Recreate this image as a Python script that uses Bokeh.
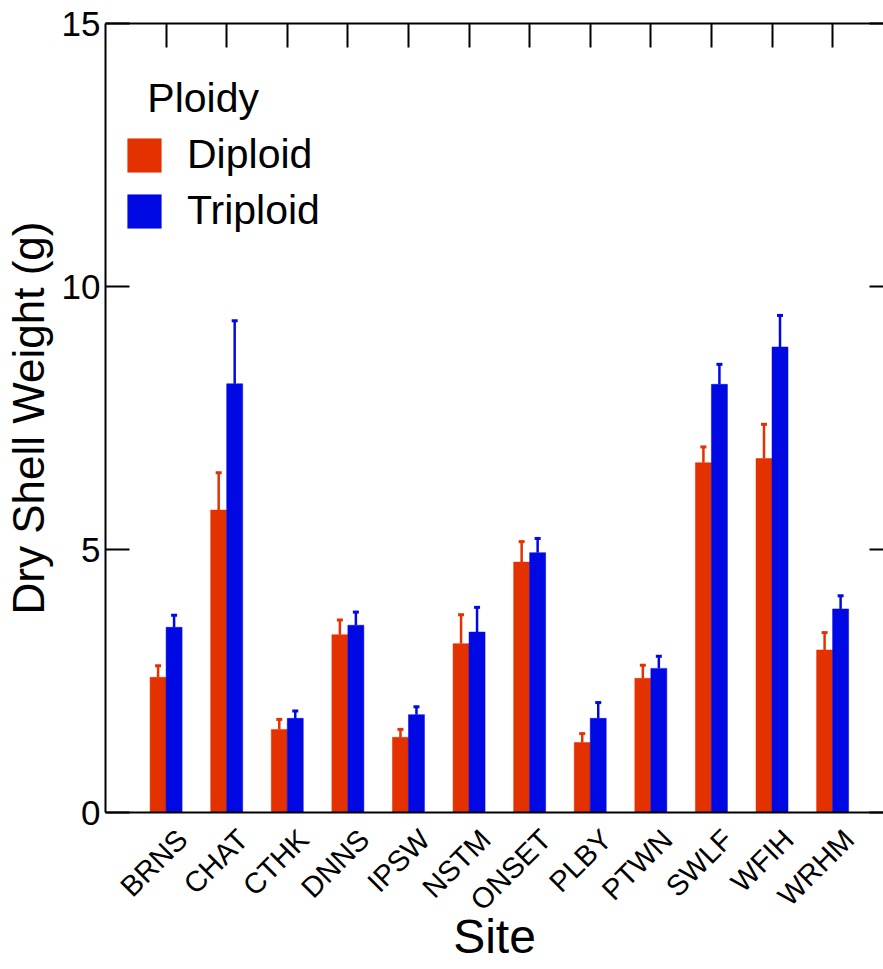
import math
from bokeh.plotting import figure
from bokeh.models import (ColumnDataSource, Range1d, LinearAxis, FixedTicker,
                          Legend, LegendItem, Label)
from bokeh.embed import file_html
from bokeh.resources import INLINE

# ---- data ----
sites = ["BRNS", "CHAT", "CTHK", "DNNS", "IPSW", "NSTM",
         "ONSET", "PLBY", "PTWN", "SWLF", "WFIH", "WRHM"]
diploid_mean = [2.57, 5.75, 1.58, 3.38, 1.43, 3.21, 4.76, 1.33, 2.55, 6.65, 6.73, 3.09]
diploid_err = [0.22, 0.71, 0.19, 0.28, 0.15, 0.55, 0.39, 0.17, 0.25, 0.30, 0.65, 0.33]
triploid_mean = [3.52, 8.15, 1.79, 3.56, 1.86, 3.43, 4.94, 1.79, 2.74, 8.14, 8.85, 3.87]
triploid_err = [0.23, 1.20, 0.14, 0.25, 0.15, 0.47, 0.27, 0.30, 0.23, 0.38, 0.60, 0.25]
y_ticks = [0, 5, 10, 15]
series_names = ["Diploid", "Triploid"]
legend_title = "Ploidy"
x_title = "Site"
y_title = "Dry Shell Weight (g)"

RED = "#E33100"
BLUE = "#0008E3"
FONT = "Liberation Sans"
BW = 0.264   # bar width in category units
XMAX = 12.84
LAB_SHIFT = 0.27  # rotated site names sit a little right of the category centre

xpos = list(range(1, len(sites) + 1))
src_d = ColumnDataSource(dict(
    x=[x - BW / 2 for x in xpos], top=diploid_mean,
    etop=[m + e for m, e in zip(diploid_mean, diploid_err)]))
src_t = ColumnDataSource(dict(
    x=[x + BW / 2 for x in xpos], top=triploid_mean,
    etop=[m + e for m, e in zip(triploid_mean, triploid_err)]))

p = figure(width=883, height=969, output_backend="svg", toolbar_location=None,
           x_range=Range1d(0, XMAX), y_range=Range1d(0, 15),
           x_axis_location=None,
           min_border_left=104, min_border_top=23, min_border_bottom=157,
           min_border_right=0)
p.extra_x_ranges = {"lab": Range1d(-LAB_SHIFT, XMAX - LAB_SHIFT)}
p.xgrid.visible = False
p.ygrid.visible = False
p.outline_line_color = None
p.background_fill_color = "white"
p.border_fill_color = "white"

r_d = p.vbar(x="x", top="top", bottom=0, width=BW, source=src_d,
             fill_color=RED, line_color=RED, line_alpha=0.5)
r_t = p.vbar(x="x", top="top", bottom=0, width=BW, source=src_t,
             fill_color=BLUE, line_color=BLUE, line_alpha=0.5)
for src, col in ((src_d, RED), (src_t, BLUE)):
    p.segment(x0="x", y0="top", x1="x", y1="etop", source=src,
              line_color=col, line_width=2.5)
    p.scatter(x="x", y="etop", source=src, marker="dash", size=6,
              line_color=col, line_width=3)

blank = {t: "" for t in xpos}
blank_y = {t: "" for t in y_ticks}

# bottom axis: rotated site names
xa = LinearAxis(x_range_name="lab", ticker=FixedTicker(ticks=xpos),
                major_label_overrides={x: s for x, s in zip(xpos, sites)},
                major_label_orientation=math.pi / 4,
                major_tick_in=0, major_tick_out=0, minor_tick_line_color=None,
                axis_line_width=2, axis_line_color="black",
                major_label_text_font=FONT, major_label_text_font_size="29px",
                major_label_text_color="black", major_label_standoff=22,
                axis_label=x_title, axis_label_text_font=FONT,
                axis_label_text_font_size="48px", axis_label_text_font_style="normal",
                axis_label_text_color="black", axis_label_standoff=-21)
p.add_layout(xa, "below")

# left axis
ya = p.yaxis[0]
ya.ticker = FixedTicker(ticks=y_ticks)
ya.major_tick_in = 24
ya.major_tick_out = 0
ya.major_tick_line_width = 2
ya.major_tick_line_color = "black"
ya.minor_tick_line_color = None
ya.axis_line_width = 2
ya.axis_line_color = "black"
ya.major_label_text_font = FONT
ya.major_label_text_font_size = "35px"
ya.major_label_text_color = "black"
ya.major_label_standoff = 5
ya.axis_label = y_title
ya.axis_label_text_font = FONT
ya.axis_label_text_font_size = "44px"
ya.axis_label_text_font_style = "normal"
ya.axis_label_text_color = "black"
ya.axis_label_standoff = 6

# top axis: ticks at category centres
ta = LinearAxis(ticker=FixedTicker(ticks=xpos), major_tick_in=24, major_tick_out=0,
                major_tick_line_width=2, axis_line_width=2,
                major_tick_line_color="black", axis_line_color="black",
                minor_tick_line_color=None, major_label_overrides=blank,
                major_label_standoff=0)
p.add_layout(ta, "above")

# right axis (its line falls at the window edge)
ra = LinearAxis(ticker=FixedTicker(ticks=y_ticks), major_tick_in=14, major_tick_out=0,
                major_tick_line_width=2, major_tick_line_color="black",
                axis_line_color=None, minor_tick_line_color=None,
                major_label_overrides=blank_y, major_label_standoff=0)
p.add_layout(ra, "right")

legend = Legend(items=[LegendItem(label=series_names[0], renderers=[r_d]),
                       LegendItem(label=series_names[1], renderers=[r_t])],
                location=(18, 578), margin=0, padding=0, spacing=9,
                glyph_width=42, glyph_height=42, label_standoff=22,
                label_text_font=FONT, label_text_font_size="41px",
                label_text_color="black",
                background_fill_alpha=0, border_line_color=None)
p.add_layout(legend, "center")

p.add_layout(Label(x=0.69, y=13.58, text=legend_title, text_font=FONT,
                   text_font_size="41px", text_baseline="alphabetic",
                   text_color="black"))

open("out.html", "w").write(file_html(p, INLINE))
